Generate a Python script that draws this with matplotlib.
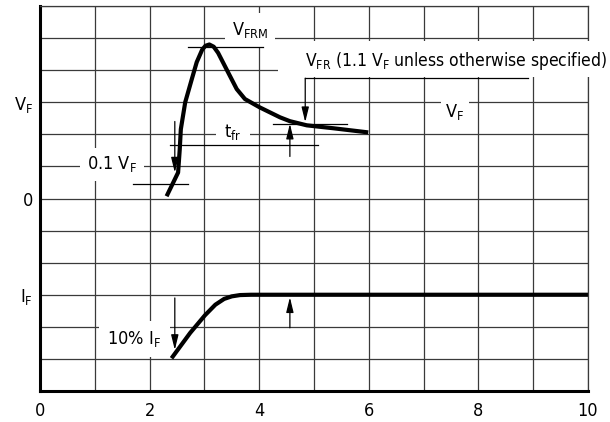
import matplotlib
matplotlib.use('Agg')
import matplotlib.pyplot as plt
from matplotlib.patches import Rectangle

# condensed grotesque look
plt.rcParams['font.family'] = ['DejaVu Sans']
plt.rcParams['font.stretch'] = 'condensed'
plt.rcParams['font.size'] = 13

# forward recovery waveform (time in ns, vertical in grid units)
vf_t = [2.31, 2.52, 2.55, 2.57, 2.65, 2.77, 2.86, 2.96, 3.02, 3.09, 3.17, 3.25,
        3.43, 3.59, 3.74, 4.01, 4.38, 4.56, 4.87, 5.35, 5.99]
vf_v = [6.07, 6.81, 7.53, 8.16, 9.0, 9.72, 10.25, 10.64, 10.76, 10.80, 10.73, 10.54,
        9.94, 9.41, 9.1, 8.84, 8.53, 8.41, 8.28, 8.19, 8.06]
if_t = [2.40, 2.74, 3.01, 3.20, 3.36, 3.50, 3.65, 3.85, 10.0]
if_i = [1.02, 1.81, 2.36, 2.69, 2.87, 2.95, 2.99, 3.0, 3.0]

x_ticks = list(range(0, 11))
x_labels = ['0', '', '2', '', '4', '', '6', '', '8', '', '10']
y_ticks = list(range(0, 13))
y_labels = {3: r'I$_{\mathregular{F}}$', 6: '0', 9: r'V$_{\mathregular{F}}$'}

fig = plt.figure(figsize=(6.1, 4.22), dpi=100)
ax = fig.add_axes([40/610, 31/422, 548/610, 385/422])
ax.set_xlim(0, 10)
ax.set_ylim(0, 12)
ax.set_xticks(x_ticks)
ax.set_xticklabels(x_labels)
ax.set_yticks(y_ticks)
ax.set_yticklabels([y_labels.get(v, '') for v in y_ticks])
ax.tick_params(length=0)
ax.tick_params(axis='x', pad=8)
ax.tick_params(axis='y', pad=5)
ax.set_axisbelow(True)
ax.grid(True, color='#3a3a3a', lw=0.9)
for s in ['left', 'bottom']:
    ax.spines[s].set_linewidth(2.2)
for s in ['top', 'right']:
    ax.spines[s].set_linewidth(0.9)
    ax.spines[s].set_color('#3a3a3a')

ax.plot(vf_t, vf_v, color='black', lw=3, solid_joinstyle='round', solid_capstyle='butt')
ax.plot(if_t, if_i, color='black', lw=3, solid_joinstyle='round', solid_capstyle='butt')

# thin reference lines
segs = [((2.70, 4.07), (10.73, 10.73)),
        ((4.25, 5.60), (8.31, 8.31)),
        ((2.37, 5.07), (7.66, 7.66)),
        ((1.70, 2.70), (6.44, 6.44)),
        ((4.84, 8.90), (9.75, 9.75))]
for xs, ys in segs:
    ax.plot(xs, ys, color='black', lw=0.9, zorder=4)

arrows = [((2.46, 8.40), (2.46, 6.81)),
          ((4.56, 7.31), (4.56, 8.33)),
          ((4.84, 9.75), (4.84, 8.38)),
          ((2.46, 2.90), (2.46, 1.28)),
          ((4.56, 1.97), (4.56, 2.92))]
for tail, tip in arrows:
    ax.annotate('', xy=tip, xytext=tail, zorder=4,
                arrowprops=dict(arrowstyle='-|>,head_length=0.9,head_width=0.22',
                                color='black', lw=0.9, mutation_scale=10,
                                shrinkA=0, shrinkB=0))

box = dict(facecolor='white', edgecolor='none')
ax.add_patch(Rectangle((4.34, 9.78), 6.3, 1.12, facecolor='white', edgecolor='none',
                       zorder=2.7, clip_on=False))
ax.text(4.84, 10.28, r'V$_{\mathregular{FR}}$ (1.1 V$_{\mathregular{F}}$ unless otherwise specified)',
        ha='left', va='center', zorder=3, fontsize=12.5)
ax.text(3.83, 11.25, r'V$_{\mathregular{FRM}}$', ha='center', va='center', bbox=dict(box, pad=5))
ax.text(7.57, 8.69, r'V$_{\mathregular{F}}$', ha='center', va='center', bbox=dict(box, pad=3))
ax.text(3.52, 8.06, r't$_{\mathregular{fr}}$', ha='center', va='center', bbox=dict(box, pad=6))
ax.text(1.31, 7.06, r'0.1 V$_{\mathregular{F}}$', ha='center', va='center', bbox=dict(box, pad=5))
ax.text(1.72, 1.62, r'10% I$_{\mathregular{F}}$', ha='center', va='center', bbox=dict(box, pad=6))

fig.savefig('out.png', dpi=100)
